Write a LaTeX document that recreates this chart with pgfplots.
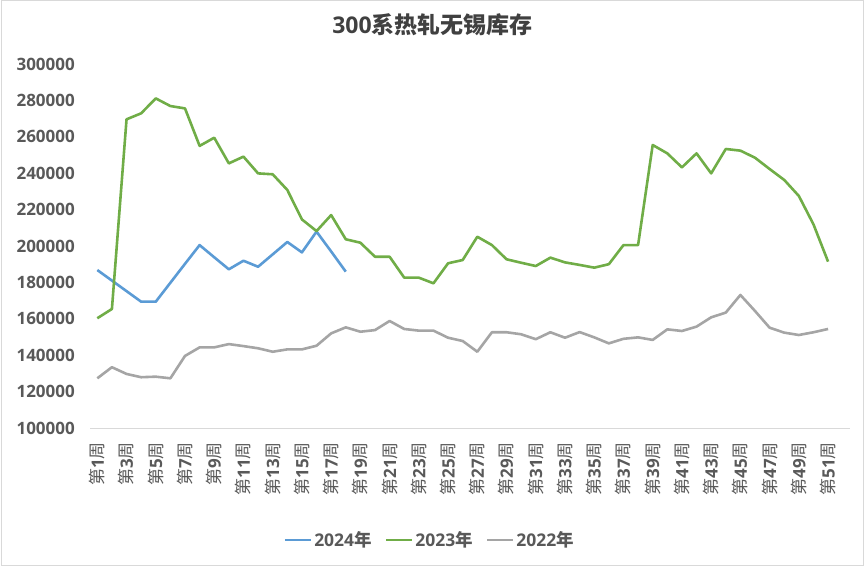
\documentclass[border=0pt]{standalone}
\usepackage{pgfplots}
\pgfplotsset{compat=1.18}
\usepackage{fontspec}
\setmainfont{Open Sans}
\newfontfamily\cjk{Noto Sans CJK SC}
\definecolor{c24}{HTML}{5B9BD5}
\definecolor{c23}{HTML}{70AD47}
\definecolor{c22}{HTML}{A5A5A5}
\definecolor{ctext}{HTML}{595959}
\definecolor{ctitle}{HTML}{404040}
\definecolor{caxis}{HTML}{D9D9D9}
\newcommand{\wk}[1]{{\cjk 第}\textbf{#1}{\cjk 周}}
\begin{document}
\begin{tikzpicture}
\useasboundingbox (0,0) rectangle (865bp,568bp);
\draw[caxis, line width=1bp] (1bp,2bp) rectangle (863.5bp,567bp);
\node[text=ctitle, anchor=center] at (432.5bp,543bp) {\fontsize{23bp}{26bp}\selectfont\bfseries 300{\cjk 系热轧无锡库存}};
\begin{axis}[
  at={(90bp,140bp)}, anchor=south west,
  scale only axis, width=760bp, height=364bp,
  xmin=0.5, xmax=52.5, ymin=100000, ymax=300000,
  scaled y ticks=false,
  axis line style={draw=none},
  major tick length=0pt,
  xtick={1,3,...,51},
  xticklabels={\wk{1},\wk{3},\wk{5},\wk{7},\wk{9},\wk{11},\wk{13},\wk{15},\wk{17},\wk{19},\wk{21},\wk{23},\wk{25},\wk{27},\wk{29},\wk{31},\wk{33},\wk{35},\wk{37},\wk{39},\wk{41},\wk{43},\wk{45},\wk{47},\wk{49},\wk{51}},
  ytick={100000,120000,...,300000},
  yticklabels={100000,120000,140000,160000,180000,200000,220000,240000,260000,280000,300000},
  xticklabel style={yshift=-14bp, rotate=90, anchor=east, inner sep=0pt, text=ctext, font=\fontsize{17bp}{18bp}\selectfont},
  yticklabel style={anchor=east, inner sep=0pt, xshift=-15bp, text=ctext, font=\fontsize{17bp}{18bp}\selectfont\bfseries},
  legend style={at={(0.447,-0.3077)}, anchor=center, draw=none, fill=none, legend columns=-1,
    /tikz/every even column/.append style={column sep=11bp},
    font=\fontsize{17.5bp}{18bp}\selectfont\bfseries, text=ctext},
  legend image code/.code={\draw[#1] (0bp,0bp) -- (26bp,0bp);},
  every axis plot/.append style={line width=2.6bp, line join=round, no markers},
  clip=false,
]
\draw[caxis, line width=1bp] (rel axis cs:0,0) -- (rel axis cs:1,0);
\addplot[c24] coordinates {
(1,186800) (2,181000) (3,175200) (4,169400) (5,169400) (6,179800) (7,190200) (8,200500) (9,193800) (10,187200) (11,191900) (12,188600) (13,195400) (14,202200) (15,196500) (16,207900) (17,197000) (18,185900)};
\addlegendentry{2024{\cjk 年}}
\addplot[c23] coordinates {
(1,160300) (2,165400) (3,269600) (4,272900) (5,281100) (6,276900) (7,275600) (8,255000) (9,259500) (10,245400) (11,249100) (12,239900) (13,239400) (14,230800) (15,214600) (16,208200) (17,217000) (18,203700) (19,201800) (20,194100) (21,194100) (22,182600) (23,182600) (24,179500) (25,190500) (26,192300) (27,205100) (28,200500) (29,192700) (30,190800) (31,189000) (32,193600) (33,191000) (34,189600) (35,188100) (36,190000) (37,200500) (38,200500) (39,255500) (40,250900) (41,243200) (42,250900) (43,239900) (44,253300) (45,252400) (46,248500) (47,242300) (48,236300) (49,227500) (50,211900) (51,191400)};
\addlegendentry{2023{\cjk 年}}
\addplot[c22] coordinates {
(1,127300) (2,133400) (3,129700) (4,127900) (5,128200) (6,127300) (7,139600) (8,144300) (9,144300) (10,146100) (11,145000) (12,143800) (13,141900) (14,143200) (15,143200) (16,145200) (17,152000) (18,155300) (19,152900) (20,153800) (21,158800) (22,154400) (23,153500) (24,153500) (25,149600) (26,147800) (27,141900) (28,152600) (29,152600) (30,151500) (31,148800) (32,152600) (33,149600) (34,152700) (35,149800) (36,146500) (37,149000) (38,149800) (39,148400) (40,154200) (41,153300) (42,155700) (43,160800) (44,163400) (45,173100) (46,164300) (47,155100) (48,152400) (49,151100) (50,152600) (51,154400)};
\addlegendentry{2022{\cjk 年}}
\end{axis}
\end{tikzpicture}
\end{document}
